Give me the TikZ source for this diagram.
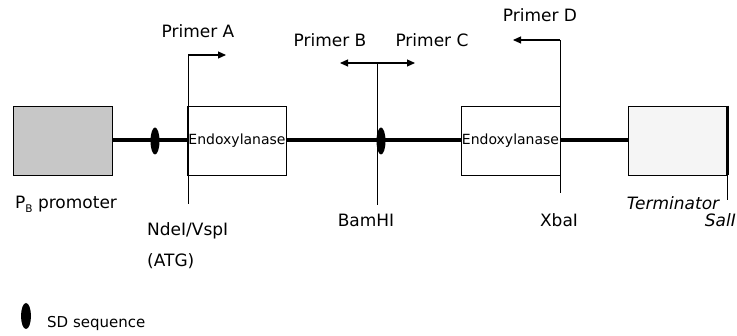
\documentclass[tikz,border=0pt]{standalone}
\usepackage{fontspec}
\setmainfont{DejaVu Sans}
\usetikzlibrary{arrows.meta,shapes.geometric}
\begin{document}
\begin{tikzpicture}[x=1pt,y=-1pt,
  lbl/.style={font=\fontsize{17}{20}\selectfont, inner sep=0pt, anchor=base},
  lbll/.style={lbl, anchor=base west},
  genebox/.style={draw, line width=0.9pt, minimum width=99pt, minimum height=69pt, inner sep=0pt},
  dna/.style={line width=4pt},
  site/.style={line width=0.9pt},
  primer/.style={line width=1.1pt, -{Triangle[length=8pt,width=7pt]}},
  sdmark/.style={ellipse, fill=black, minimum width=9pt, minimum height=27pt, inner sep=0pt}]
\clip (0,0) rectangle (737,336);
\fill[white] (0,0) rectangle (737,336);

% boxes
\node[genebox, fill=black!22] (prom) at (62.5,140.5) {};
\node[genebox, font=\fontsize{14}{16}\selectfont] (gene1) at (237,140.5) {Endoxylanase};
\node[genebox, font=\fontsize{14}{16}\selectfont] (gene2) at (510.5,140.5) {Endoxylanase};
\node[genebox, fill=black!4] (term) at (677.5,140.5) {};
\draw[line width=2.5pt] (term.north east) -- (term.south east);

% DNA backbone
\draw[dna] (prom.east) -- (gene1.west);
\draw[dna] (gene1.east) -- (gene2.west);
\draw[dna] (gene2.east) -- (term.west);

% SD sequences
\node[sdmark] (sd1) at (155,141) {};
\node[sdmark] (sd2) at (381,141) {};

% restriction sites and primers
\coordinate (aTop) at (188,55);
\coordinate (aBot) at (188,204);
\coordinate (aTip) at (226,55);
\draw[site] (aBot) -- (aTop);
\draw[primer] (aTop) -- (aTip);

\coordinate (bTop) at (377,63);
\coordinate (bBot) at (377,205);
\coordinate (bTipL) at (340,63);
\coordinate (bTipR) at (415,63);
\draw[site] (bBot) -- (bTop);
\draw[primer] (bTop) -- (bTipL);
\draw[primer] (bTop) -- (bTipR);

\coordinate (dTop) at (560,40);
\coordinate (dBot) at (560,193);
\coordinate (dTip) at (513,40);
\draw[site] (dBot) -- (dTop);
\draw[primer] (dTop) -- (dTip);

\coordinate (sTop) at (727,106);
\coordinate (sBot) at (727,200);
\draw[site] (sTop) -- (sBot);

% labels
\node[lbl] (pA) at (198,38) {Primer A};
\node[lbl] (pB) at (330,47) {Primer B};
\node[lbl] (pC) at (432,47) {Primer C};
\node[lbl] (pD) at (540,22) {Primer D};
\node[lbll] (promlbl) at (15,209) {P\raisebox{-0.35ex}{\fontsize{10.5}{10.5}\selectfont B} promoter};
\node[lbll] (nde) at (147,236) {NdeI/VspI};
\node[lbll] (atg) at (147,267) {(ATG)};
\node[lbl] (bam) at (366,227) {BamHI};
\node[lbl] (xba) at (559,227) {XbaI};
\node[lbl, font=\fontsize{17}{20}\selectfont\itshape] (termlbl) at (673,210) {Terminator};
\node[lbl, anchor=base east, font=\fontsize{17}{20}\selectfont\itshape] (sal) at (736,227) {SalI};

% legend
\node[sdmark, minimum width=10pt, minimum height=26pt] (sdleg) at (26,316) {};
\node[lbll, font=\fontsize{15}{18}\selectfont] (sdlbl) at (47,328) {SD sequence};
\end{tikzpicture}
\end{document}
